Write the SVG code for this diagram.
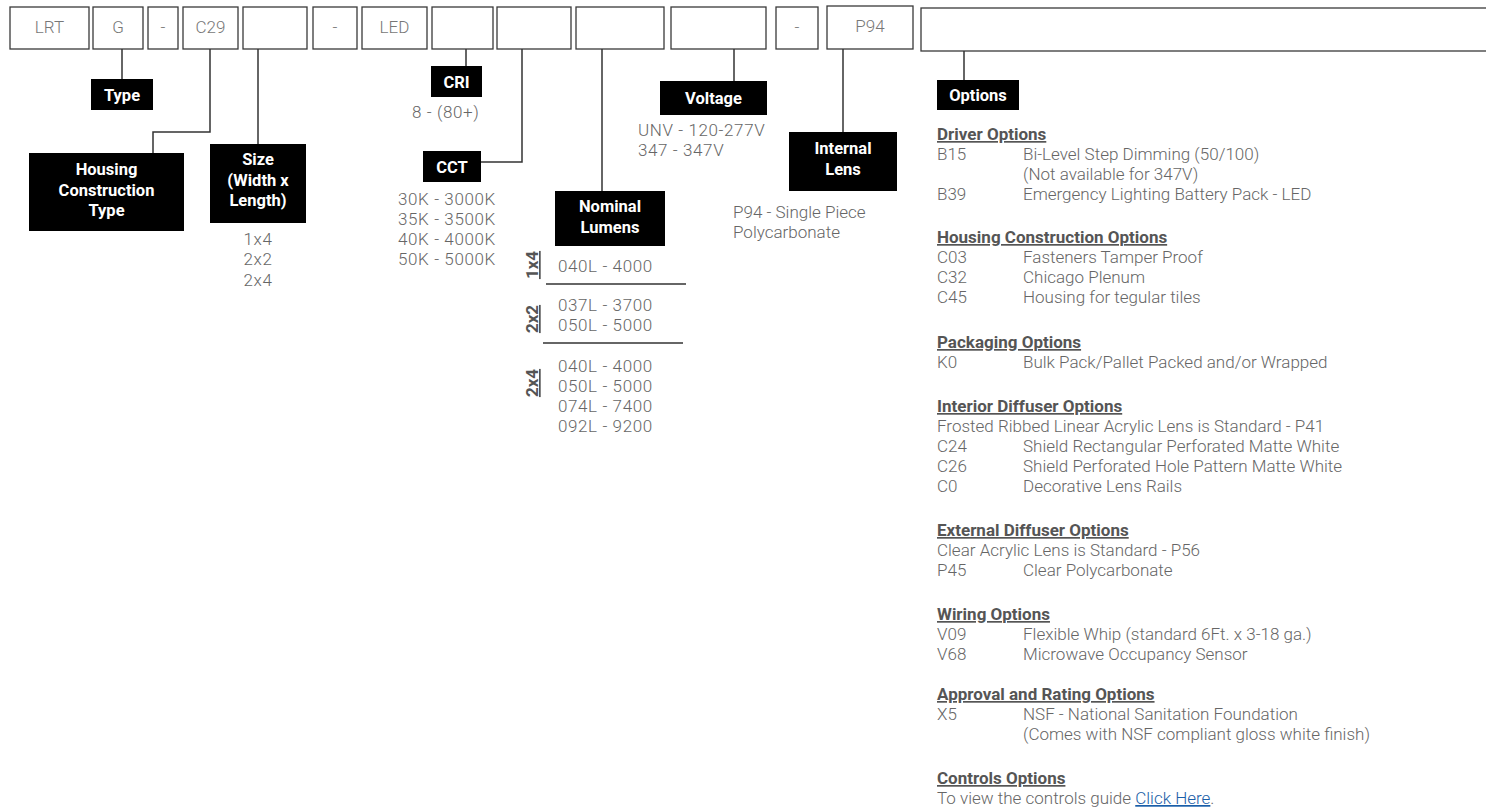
<svg xmlns="http://www.w3.org/2000/svg" width="1486" height="807" viewBox="0 0 1486 807">
<style>
.box{fill:#fff;stroke:#3a3a3a;stroke-width:1.3}
.bt{font-family:Roboto,"Noto Sans",sans-serif;font-size:17px;font-weight:300;fill:#777;text-anchor:middle}
.lab{fill:#000}
.lt{font-family:Roboto,"Noto Sans",sans-serif;font-size:16.5px;font-weight:bold;fill:#fff;text-anchor:middle}
.v{font-family:Roboto,"Noto Sans",sans-serif;font-size:17px;font-weight:300;fill:#666}
.n{letter-spacing:0.6px}
.vc{text-anchor:middle}
.h{font-family:Roboto,"Noto Sans",sans-serif;font-size:17px;font-weight:bold;fill:#555;text-decoration:underline}
.rl{font-family:Roboto,"Noto Sans",sans-serif;font-size:17px;font-weight:bold;fill:#555;text-anchor:middle;text-decoration:underline}
.con{fill:none;stroke:#333;stroke-width:1.5}
.sep{stroke:#333;stroke-width:1.3}
.link{fill:#1a5ea8;text-decoration:underline}
</style>
<rect width="1486" height="807" fill="#fff"/>
<g id="code-bar">
<g id="box-lrt"><rect class="box" x="10" y="7" width="79" height="42"/><text class="bt" x="49.5" y="33">LRT</text></g>
<g id="box-g"><rect class="box" x="93" y="7" width="50" height="42"/><text class="bt" x="118" y="33">G</text></g>
<g id="box-dash1"><rect class="box" x="148" y="7" width="30" height="42"/><text class="bt" x="163" y="33">-</text></g>
<g id="box-c29"><rect class="box" x="183" y="7" width="55" height="42"/><text class="bt" x="210.5" y="33">C29</text></g>
<g id="box-size"><rect class="box" x="243" y="7" width="64" height="42"/></g>
<g id="box-dash2"><rect class="box" x="313" y="7" width="44" height="42"/><text class="bt" x="335" y="33">-</text></g>
<g id="box-led"><rect class="box" x="362" y="7" width="65" height="42"/><text class="bt" x="394.5" y="33">LED</text></g>
<g id="box-cri"><rect class="box" x="432" y="7" width="61" height="42"/></g>
<g id="box-cct"><rect class="box" x="497" y="7" width="74" height="42"/></g>
<g id="box-lumens"><rect class="box" x="576" y="7" width="88" height="42"/></g>
<g id="box-voltage"><rect class="box" x="671" y="7" width="95" height="42"/></g>
<g id="box-dash3"><rect class="box" x="776" y="7" width="42" height="42"/><text class="bt" x="797" y="33">-</text></g>
<g id="box-p94"><rect class="box" x="827" y="6" width="86" height="43"/><text class="bt" x="870" y="32">P94</text></g>
<g id="box-options"><rect class="box" x="921" y="8" width="600" height="43"/></g>
</g>
<g id="connectors">
<path class="con" d="M122 49V79"/>
<path class="con" d="M210 49V132H153V153"/>
<path class="con" d="M258 49V144"/>
<path class="con" d="M466 49V66"/>
<path class="con" d="M522 49V162H481"/>
<path class="con" d="M602 49V191"/>
<path class="con" d="M734 49V81"/>
<path class="con" d="M843 49V132"/>
<path class="con" d="M964 51V80"/>
</g>
<g id="type">
<rect class="lab" x="91" y="79" width="62" height="31"/>
<text class="lt" x="122" y="101">Type</text>
</g>
<g id="housing">
<rect class="lab" x="29" y="153" width="155" height="78"/>
<text class="lt" x="106.5" y="175">Housing</text>
<text class="lt" x="106.5" y="196">Construction</text>
<text class="lt" x="106.5" y="216">Type</text>
</g>
<g id="size">
<rect class="lab" x="210" y="144" width="96" height="79"/>
<text class="lt" x="258" y="165">Size</text>
<text class="lt" x="258" y="186">(Width x</text>
<text class="lt" x="258" y="206">Length)</text>
<text class="v vc n" x="258" y="245">1x4</text>
<text class="v vc n" x="258" y="265">2x2</text>
<text class="v vc n" x="258" y="286">2x4</text>
</g>
<g id="cri">
<rect class="lab" x="431" y="66" width="51" height="31"/>
<text class="lt" x="456.5" y="88">CRI</text>
<text class="v n" x="412" y="118">8 - (80+)</text>
</g>
<g id="cct">
<rect class="lab" x="423" y="151" width="58" height="31"/>
<text class="lt" x="452" y="173">CCT</text>
<text class="v n" x="398" y="205">30K - 3000K</text>
<text class="v n" x="398" y="225">35K - 3500K</text>
<text class="v n" x="398" y="245">40K - 4000K</text>
<text class="v n" x="398" y="265">50K - 5000K</text>
</g>
<g id="lumens">
<rect class="lab" x="555" y="191" width="110" height="55"/>
<text class="lt" x="610" y="212">Nominal</text>
<text class="lt" x="610" y="233">Lumens</text>
<text class="rl" transform="translate(538,265) rotate(-90)">1x4</text>
<text class="v n" x="558" y="272">040L - 4000</text>
<line class="sep" x1="546" y1="284" x2="686" y2="284"/>
<text class="rl" transform="translate(538,319) rotate(-90)">2x2</text>
<text class="v n" x="558" y="311">037L - 3700</text>
<text class="v n" x="558" y="331">050L - 5000</text>
<line class="sep" x1="543" y1="343" x2="683" y2="343"/>
<text class="rl" transform="translate(538,383) rotate(-90)">2x4</text>
<text class="v n" x="558" y="372">040L - 4000</text>
<text class="v n" x="558" y="392">050L - 5000</text>
<text class="v n" x="558" y="412">074L - 7400</text>
<text class="v n" x="558" y="432">092L - 9200</text>
</g>
<g id="voltage">
<rect class="lab" x="660" y="81" width="107" height="34"/>
<text class="lt" x="713.5" y="104">Voltage</text>
<text class="v n" x="638" y="136">UNV - 120-277V</text>
<text class="v n" x="638" y="156">347 - 347V</text>
</g>
<g id="internal-lens">
<rect class="lab" x="789" y="132" width="108" height="59"/>
<text class="lt" x="843" y="154">Internal</text>
<text class="lt" x="843" y="175">Lens</text>
<text class="v" x="733" y="218">P94 - Single Piece</text>
<text class="v" x="733" y="238">Polycarbonate</text>
</g>
<g id="options">
<rect class="lab" x="937" y="80" width="82" height="30"/>
<text class="lt" x="978" y="101">Options</text>
<text class="h" x="937" y="140">Driver Options</text>
<text class="v" x="937" y="160">B15</text><text class="v" x="1023" y="160">Bi-Level Step Dimming (50/100)</text>
<text class="v" x="1023" y="180">(Not available for 347V)</text>
<text class="v" x="937" y="200">B39</text><text class="v" x="1023" y="200">Emergency Lighting Battery Pack - LED</text>
<text class="h" x="937" y="243">Housing Construction Options</text>
<text class="v" x="937" y="263">C03</text><text class="v" x="1023" y="263">Fasteners Tamper Proof</text>
<text class="v" x="937" y="283">C32</text><text class="v" x="1023" y="283">Chicago Plenum</text>
<text class="v" x="937" y="303">C45</text><text class="v" x="1023" y="303">Housing for tegular tiles</text>
<text class="h" x="937" y="348">Packaging Options</text>
<text class="v" x="937" y="368">K0</text><text class="v" x="1023" y="368">Bulk Pack/Pallet Packed and/or Wrapped</text>
<text class="h" x="937" y="412">Interior Diffuser Options</text>
<text class="v" x="937" y="432">Frosted Ribbed Linear Acrylic Lens is Standard - P41</text>
<text class="v" x="937" y="452">C24</text><text class="v" x="1023" y="452">Shield Rectangular Perforated Matte White</text>
<text class="v" x="937" y="472">C26</text><text class="v" x="1023" y="472">Shield Perforated Hole Pattern Matte White</text>
<text class="v" x="937" y="492">C0</text><text class="v" x="1023" y="492">Decorative Lens Rails</text>
<text class="h" x="937" y="536">External Diffuser Options</text>
<text class="v" x="937" y="556">Clear Acrylic Lens is Standard - P56</text>
<text class="v" x="937" y="576">P45</text><text class="v" x="1023" y="576">Clear Polycarbonate</text>
<text class="h" x="937" y="620">Wiring Options</text>
<text class="v" x="937" y="640">V09</text><text class="v" x="1023" y="640">Flexible Whip (standard 6Ft. x 3-18 ga.)</text>
<text class="v" x="937" y="660">V68</text><text class="v" x="1023" y="660">Microwave Occupancy Sensor</text>
<text class="h" x="937" y="700">Approval and Rating Options</text>
<text class="v" x="937" y="720">X5</text><text class="v" x="1023" y="720">NSF - National Sanitation Foundation</text>
<text class="v" x="1023" y="740">(Comes with NSF compliant gloss white finish)</text>
<text class="h" x="937" y="784">Controls Options</text>
<text class="v" x="937" y="804">To view the controls guide <tspan class="link">Click Here</tspan>.</text>
</g>
</svg>
